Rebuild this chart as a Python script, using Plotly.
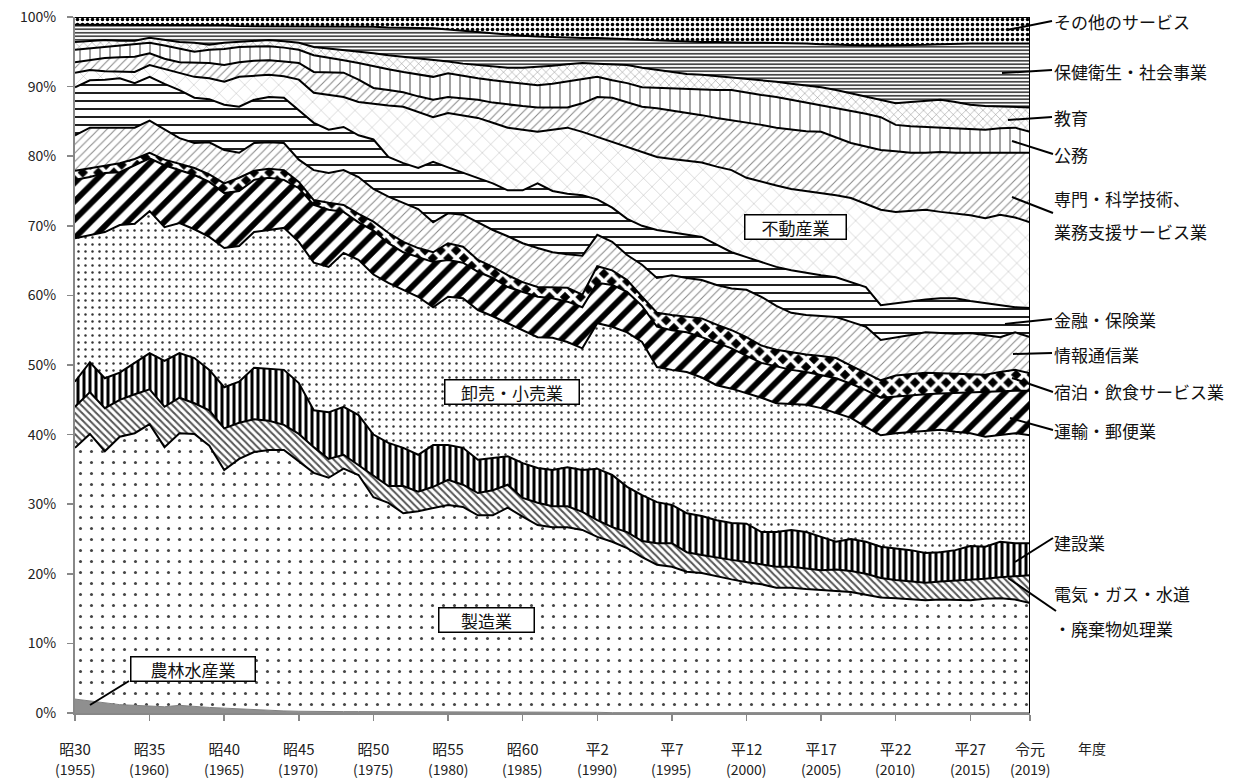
import plotly.graph_objects as go

# ---------------- data (cumulative share, %) ----------------
years = list(range(1955, 2020))

tick_years = [1955, 1960, 1965, 1970, 1975, 1980, 1985, 1990, 1995, 2000, 2005, 2010, 2015, 2019]
era_labels = ["昭30", "昭35", "昭40", "昭45", "昭50", "昭55", "昭60", "平2", "平7", "平12", "平17", "平22", "平27", "令元"]
year_labels = ["(1955)", "(1960)", "(1965)", "(1970)", "(1975)", "(1980)", "(1985)", "(1990)", "(1995)",
               "(2000)", "(2005)", "(2010)", "(2015)", "(2019)"]
y_ticks = [0, 10, 20, 30, 40, 50, 60, 70, 80, 90, 100]
y_ticktext = ["0%", "10%", "20%", "30%", "40%", "50%", "60%", "70%", "80%", "90%", "100%"]

cum_agri = [2.0, 1.7, 1.4, 1.2, 1.1, 1.0, 0.9, 1.1, 0.9, 0.8,
            0.7, 0.6, 0.4, 0.35, 0.3, 0.25, 0.2, 0.2, 0.2, 0.2,
            0.2, 0.2, 0.2, 0.2, 0.2, 0.2, 0.15, 0.15, 0.15, 0.15,
            0.15, 0.15, 0.15, 0.15, 0.15, 0.1, 0.05, 0.05, 0.05, 0.05,
            0.05, 0.05, 0.05, 0.05, 0.05, 0.05, 0.05, 0.05, 0.05, 0.05,
            0.05, 0.05, 0.05, 0.05, 0.05, 0.05, 0.05, 0.05, 0.05, 0.05,
            0.05, 0.05, 0.05, 0.05, 0.05]
cum_manufacturing = [38.1, 40.1, 37.6, 39.7, 40.2, 41.5, 38.2, 40.2, 40.1, 38.4,
                     34.9, 36.5, 37.5, 37.8, 37.8, 36.1, 34.5, 33.8, 35.1, 34.2,
                     31.0, 30.2, 28.7, 29.0, 29.5, 29.9, 29.6, 28.4, 28.4, 29.5,
                     28.2, 27.0, 26.7, 26.7, 26.3, 25.3, 24.6, 23.7, 22.4, 21.3,
                     21.0, 20.3, 20.1, 19.6, 19.2, 18.8, 18.5, 18.0, 18.0, 17.8,
                     17.7, 17.5, 17.4, 17.0, 16.6, 16.5, 16.4, 16.2, 16.3, 16.2,
                     16.2, 16.4, 16.5, 16.3, 15.8]
cum_utilities = [44.0, 46.1, 43.8, 45.0, 45.8, 46.5, 44.0, 45.3, 44.5, 43.5,
                 40.9, 41.7, 42.2, 42.0, 41.4, 40.1, 38.2, 36.5, 37.1, 35.6,
                 34.2, 32.6, 32.6, 31.8, 32.5, 33.5, 32.8, 31.6, 32.0, 32.8,
                 30.9, 30.2, 29.7, 29.7, 28.9, 27.7, 26.7, 26.0, 24.7, 24.4,
                 24.4, 23.1, 22.7, 22.3, 22.0, 21.7, 21.4, 21.0, 21.0, 20.8,
                 20.5, 20.6, 20.4, 20.0, 19.4, 19.1, 18.9, 18.7, 18.9, 19.0,
                 19.1, 19.3, 19.5, 19.6, 19.8]
cum_construction = [47.6, 50.4, 48.1, 48.9, 50.3, 51.7, 50.6, 51.7, 51.0, 49.3,
                    46.8, 47.6, 49.6, 49.4, 49.3, 47.4, 43.5, 43.2, 44.0, 42.8,
                    40.0, 38.8, 38.1, 37.1, 38.5, 38.5, 38.1, 36.4, 36.6, 36.9,
                    35.9, 35.2, 34.9, 35.3, 34.9, 35.1, 34.2, 32.5, 31.3, 30.3,
                    29.9, 28.7, 28.3, 27.7, 27.3, 27.2, 26.0, 26.0, 26.3, 26.0,
                    25.3, 24.6, 25.0, 24.6, 23.9, 23.7, 23.4, 23.0, 23.1, 23.4,
                    24.0, 23.9, 24.6, 24.4, 24.4]
cum_trade = [68.2, 68.7, 69.1, 70.1, 70.3, 72.1, 69.8, 70.4, 69.5, 68.4,
             66.8, 67.1, 69.1, 69.4, 69.7, 67.7, 64.7, 64.1, 66.1, 65.1,
             63.0, 61.8, 60.8, 59.8, 58.3, 59.8, 59.6, 57.9, 57.0, 56.0,
             55.0, 54.0, 53.9, 53.3, 52.4, 56.0, 55.5, 54.7, 53.3, 49.7,
             49.3, 49.0, 48.2, 47.1, 46.6, 46.0, 45.3, 44.5, 44.4, 44.3,
             43.8, 43.1, 42.4, 41.1, 39.9, 40.2, 40.4, 40.5, 40.7, 40.4,
             40.2, 39.7, 40.0, 40.2, 39.9]
cum_transport = [76.6, 77.0, 77.6, 77.7, 78.7, 79.7, 78.7, 78.0, 77.3, 76.3,
                 74.7, 75.0, 76.6, 76.9, 76.6, 75.4, 73.0, 72.3, 72.0, 70.5,
                 69.3, 67.5, 66.2, 65.5, 64.8, 65.1, 64.7, 63.4, 62.5, 61.2,
                 60.5, 59.8, 59.6, 59.1, 58.3, 61.8, 61.5, 60.5, 58.5, 55.5,
                 55.0, 54.7, 54.0, 53.2, 52.4, 51.3, 50.3, 49.8, 49.3, 49.0,
                 48.5, 48.1, 47.3, 46.4, 45.3, 45.5, 45.7, 45.8, 45.9, 46.0,
                 46.0, 46.1, 46.2, 46.3, 46.3]
cum_hotel = [77.9, 78.3, 78.7, 79.0, 79.6, 80.5, 79.5, 78.9, 78.3, 77.4,
             76.1, 76.9, 77.9, 78.2, 78.0, 76.3, 73.7, 73.3, 73.0, 71.7,
             70.6, 69.0, 67.7, 66.8, 66.2, 67.5, 67.0, 65.1, 64.1, 62.9,
             61.9, 61.2, 61.2, 61.1, 60.1, 64.2, 63.6, 62.2, 59.8, 57.5,
             57.2, 57.0, 56.7, 55.8, 55.0, 54.0, 52.8, 52.2, 51.8, 51.5,
             51.3, 51.0, 49.9, 48.9, 47.8, 48.5, 48.7, 48.9, 48.8, 48.7,
             48.6, 48.6, 49.0, 49.3, 48.8]
cum_info = [83.0, 84.1, 84.1, 84.1, 84.1, 85.1, 83.8, 82.6, 81.9, 82.0,
            80.9, 80.5, 81.9, 82.0, 81.9, 79.5, 78.0, 77.6, 78.0, 77.0,
            75.3, 74.2, 73.3, 72.4, 70.5, 71.8, 71.6, 70.5, 69.4, 68.5,
            67.5, 66.8, 66.2, 65.9, 65.7, 68.7, 67.7, 65.8, 64.4, 62.5,
            62.9, 62.5, 62.2, 61.5, 61.0, 60.8, 59.8, 58.5, 57.5, 57.2,
            57.0, 56.9, 56.2, 55.5, 53.6, 53.9, 54.3, 54.7, 54.6, 54.5,
            54.6, 54.3, 54.0, 54.7, 54.0]
cum_finance = [89.9, 90.9, 91.0, 91.2, 90.5, 91.4, 90.4, 89.5, 88.4, 88.2,
               87.4, 87.1, 88.1, 88.5, 88.4, 86.6, 84.8, 83.8, 84.2, 83.0,
               82.4, 79.9, 79.0, 78.3, 79.2, 78.4, 77.6, 76.8, 76.1, 75.1,
               75.1, 76.1, 75.0, 74.6, 74.4, 73.8, 72.6, 71.0, 70.0, 69.4,
               69.1, 68.8, 68.4, 67.3, 66.2, 65.5, 64.8, 64.1, 63.6, 63.2,
               62.9, 62.6, 61.9, 61.2, 58.6, 58.9, 59.2, 59.4, 59.6, 59.6,
               59.2, 58.9, 58.6, 58.3, 58.2]
cum_realestate = [92.0, 92.4, 92.2, 92.1, 92.1, 93.1, 92.5, 92.0, 91.4, 91.2,
                  90.7, 91.4, 91.6, 91.7, 91.5, 91.0, 89.1, 88.8, 88.5, 87.8,
                  87.5, 87.3, 87.1, 86.3, 85.6, 86.2, 85.8, 85.5, 84.8, 84.1,
                  83.8, 83.5, 83.8, 84.1, 83.5, 82.8, 82.0, 81.3, 80.6, 79.9,
                  79.6, 79.3, 79.1, 78.5, 78.0, 76.9, 76.3, 75.8, 75.3, 75.0,
                  74.8, 74.4, 74.0, 73.2, 72.3, 72.0, 72.1, 72.3, 72.0, 71.8,
                  71.5, 71.1, 71.6, 71.2, 70.5]
cum_professional = [93.5, 93.8, 94.1, 94.2, 94.3, 94.8, 94.0, 93.5, 93.4, 93.4,
                    93.1, 93.5, 93.7, 93.8, 93.6, 93.4, 92.1, 92.0, 92.0, 91.0,
                    89.8, 89.5, 89.2, 88.6, 88.1, 88.5, 88.3, 88.1, 87.7, 87.4,
                    87.2, 87.0, 87.0, 87.0, 87.6, 88.5, 88.4, 87.8, 87.1, 86.9,
                    86.6, 86.2, 85.9, 85.5, 85.2, 84.8, 84.5, 84.1, 83.8, 83.6,
                    83.5, 82.7, 81.9, 81.4, 80.9, 80.7, 80.5, 80.5, 80.6, 80.5,
                    80.5, 80.5, 80.5, 80.5, 80.5]
cum_public = [95.3, 95.5, 95.7, 95.9, 96.0, 96.3, 95.9, 95.5, 95.0, 95.3,
              95.4, 95.7, 95.8, 95.8, 95.6, 95.3, 94.5, 94.2, 93.8, 93.4,
              92.9, 92.5, 92.1, 91.7, 91.4, 91.9, 91.5, 91.2, 90.9, 90.7,
              90.4, 90.2, 90.4, 90.7, 91.1, 91.4, 90.9, 90.5, 89.9, 89.8,
              89.7, 89.6, 89.6, 89.5, 89.5, 89.1, 88.8, 88.5, 88.1, 87.8,
              87.4, 87.0, 86.6, 86.1, 85.6, 84.5, 84.3, 84.2, 84.1, 84.1,
              84.0, 83.8, 84.0, 84.1, 83.5]
cum_education = [96.4, 96.6, 96.7, 96.6, 96.6, 97.0, 96.7, 96.4, 96.3, 96.0,
                 96.3, 96.4, 96.5, 96.7, 96.5, 96.3, 95.7, 95.5, 95.3, 95.0,
                 94.8, 94.5, 94.3, 94.0, 93.8, 93.6, 93.3, 93.1, 92.9, 92.7,
                 92.7, 92.8, 93.0, 93.2, 93.4, 93.3, 93.2, 93.1, 92.7, 92.4,
                 92.1, 91.8, 91.7, 91.5, 91.4, 91.1, 90.9, 90.7, 90.4, 90.2,
                 89.9, 89.5, 89.0, 88.5, 88.0, 87.6, 87.8, 88.0, 88.1, 87.8,
                 87.4, 87.2, 87.1, 87.0, 87.0]
cum_health = [98.9, 98.9, 98.9, 98.9, 98.9, 98.9, 98.9, 98.8, 98.8, 98.8,
              98.8, 98.7, 98.7, 98.7, 98.7, 98.6, 98.6, 98.6, 98.6, 98.6,
              98.6, 98.5, 98.5, 98.4, 98.4, 98.2, 98.0, 97.9, 97.7, 97.5,
              97.3, 97.2, 97.1, 97.1, 97.0, 97.0, 96.9, 96.8, 96.7, 96.6,
              96.5, 96.5, 96.4, 96.4, 96.3, 96.3, 96.3, 96.3, 96.3, 96.2,
              96.1, 96.0, 96.0, 95.9, 95.9, 95.9, 95.9, 96.0, 96.1, 96.2,
              96.2, 96.2, 96.2, 96.2, 96.2]
cum_other = [100.0] * len(years)

# ---------------- styling ----------------
FONT = "Noto Sans CJK JP"
PL, PR, PT, PB = 75, 1030, 17, 713   # plot area in pixels


def pxx(px):
    return (px - PL) / (PR - PL)


def pxy(py):
    return (PB - py) / (PB - PT)


layers = [
    ("農林水産業", cum_agri, None),
    ("製造業", cum_manufacturing, dict(shape=".", size=11, solidity=0.06, fgcolor="#444", bgcolor="white")),
    ("電気・ガス・水道・廃棄物処理業", cum_utilities, dict(shape="\\", size=5, solidity=0.4, fgcolor="#555", bgcolor="white")),
    ("建設業", cum_construction, dict(shape="|", size=6, solidity=0.5, fgcolor="#000", bgcolor="white")),
    ("卸売・小売業", cum_trade, dict(shape=".", size=7, solidity=0.1, fgcolor="#333", bgcolor="white")),
    ("運輸・郵便業", cum_transport, dict(shape="/", size=13, solidity=0.45, fgcolor="#000", bgcolor="white")),
    ("宿泊・飲食サービス業", cum_hotel, dict(shape="x", size=11, solidity=0.55, fgcolor="white", bgcolor="black")),
    ("情報通信業", cum_info, dict(shape="/", size=6, solidity=0.18, fgcolor="#8a8a8a", bgcolor="white")),
    ("金融・保険業", cum_finance, dict(shape="-", size=8, solidity=0.22, fgcolor="#000", bgcolor="white")),
    ("不動産業", cum_realestate, dict(shape="x", size=12, solidity=0.06, fgcolor="#9a9a9a", bgcolor="white")),
    ("専門・科学技術、業務支援サービス業", cum_professional, dict(shape="/", size=6, solidity=0.18, fgcolor="#8a8a8a", bgcolor="white")),
    ("公務", cum_public, dict(shape="|", size=10, solidity=0.1, fgcolor="#444", bgcolor="white")),
    ("教育", cum_education, dict(shape="x", size=6, solidity=0.14, fgcolor="#777", bgcolor="white")),
    ("保健衛生・社会事業", cum_health, dict(shape="-", size=3.5, solidity=0.45, fgcolor="#333", bgcolor="white")),
    ("その他のサービス", cum_other, dict(shape=".", size=5, solidity=0.4, fgcolor="#000", bgcolor="white")),
]

fig = go.Figure()
for i, (name, vals, pat) in enumerate(layers):
    if pat is None:
        fig.add_trace(go.Scatter(x=years, y=vals, name=name, mode="lines",
                                 line=dict(color="#808080", width=1),
                                 fill="tozeroy", fillcolor="#8f8f8f",
                                 hoverinfo="skip"))
    else:
        p = dict(pat)
        p["fillmode"] = "replace"
        fig.add_trace(go.Scatter(x=years, y=vals, name=name, mode="lines",
                                 line=dict(color="black", width=2),
                                 fill="tonexty", fillcolor="white",
                                 fillpattern=p, hoverinfo="skip"))

annotations = []
# second row of x tick labels (calendar years)
for ty, yl in zip(tick_years, year_labels):
    annotations.append(dict(x=ty, y=0, xref="x", yref="paper", text=yl, showarrow=False,
                            yshift=-(769 - PB), yanchor="middle", xanchor="center",
                            font=dict(family=FONT, size=14, color="#222")))
annotations.append(dict(x=pxx(1092), y=pxy(748), xref="paper", yref="paper", text="年度",
                        showarrow=False, xanchor="center", yanchor="middle",
                        font=dict(family=FONT, size=14, color="#222")))

# boxed labels inside the chart
box_labels = [
    ("製造業", 1982.55, 13.36, 98),
    ("卸売・小売業", 1984.26, 46.1, 137),
    ("不動産業", 2003.26, 69.83, 104),
    ("農林水産業", 1962.88, 6.39, 127),
]
for txt, bx, by, bw in box_labels:
    annotations.append(dict(x=bx, y=by, xref="x", yref="y", text=txt, showarrow=False,
                            bgcolor="white", bordercolor="black", borderwidth=1.5,
                            borderpad=0, width=bw - 4, height=23,
                            font=dict(family=FONT, size=17, color="#111")))

# right-hand labels
right_labels = [
    ("その他のサービス", 21),
    ("保健衛生・社会事業", 71),
    ("教育", 118),
    ("公務", 154),
    ("専門・科学技術、", 198),
    ("業務支援サービス業", 231),
    ("金融・保険業", 320),
    ("情報通信業", 354),
    ("宿泊・飲食サービス業", 392),
    ("運輸・郵便業", 430),
    ("建設業", 542),
    ("電気・ガス・水道", 593),
    ("・廃棄物処理業", 628),
]
for txt, py in right_labels:
    annotations.append(dict(x=pxx(1052), y=pxy(py), xref="paper", yref="paper", text=txt,
                            showarrow=False, xanchor="left", yanchor="middle",
                            font=dict(family=FONT, size=17, color="#111")))

leaders = [
    ((1007, 30), (1052, 21)),
    ((1002, 73), (1052, 70)),
    ((1008, 120), (1052, 117)),
    ((1012, 141), (1053, 154)),
    ((1012, 197), (1053, 213)),
    ((1005, 324), (1052, 319)),
    ((1013, 354), (1052, 353)),
    ((1012, 378), (1053, 392)),
    ((1010, 418), (1053, 430)),
    ((1015, 562), (1053, 538)),
    ((1008, 578), (1056, 611)),
    ((90, 705), (129, 681)),
]
shapes = []
for (x0, y0), (x1, y1) in leaders:
    shapes.append(dict(type="line", xref="paper", yref="paper",
                       x0=pxx(x0), y0=pxy(y0), x1=pxx(x1), y1=pxy(y1),
                       line=dict(color="black", width=2), layer="above"))
# right frame line
shapes.append(dict(type="line", xref="x", yref="y", x0=2019, x1=2019, y0=0, y1=100,
                   line=dict(color="black", width=2), layer="above"))

fig.update_layout(
    width=1236, height=780,
    margin=dict(l=PL, r=1236 - PR, t=PT, b=780 - PB, autoexpand=False),
    paper_bgcolor="white", plot_bgcolor="white",
    showlegend=False,
    font=dict(family=FONT, size=14, color="#222"),
    annotations=annotations,
    shapes=shapes,
    xaxis=dict(range=[1955, 2019], tickvals=tick_years, ticktext=era_labels,
               ticks="outside", ticklen=6, tickwidth=1.5, tickcolor="#888",
               showline=True, linecolor="#888", linewidth=2, showgrid=False, zeroline=False,
               ticklabelstandoff=16, tickfont=dict(family=FONT, size=15, color="#222"),
               automargin=False, fixedrange=True),
    yaxis=dict(range=[0, 100], tickvals=y_ticks, ticktext=y_ticktext,
               ticks="outside", ticklen=6, tickwidth=1.5, tickcolor="#888",
               showline=True, linecolor="#888", linewidth=2, showgrid=False, zeroline=False,
               ticklabelstandoff=8, tickfont=dict(family=FONT, size=14, color="#222"),
               automargin=False, fixedrange=True),
)

fig.write_html("out.html", config={"displayModeBar": False, "staticPlot": True},
               post_script="document.body.style.margin='0';document.body.style.overflow='hidden';")
